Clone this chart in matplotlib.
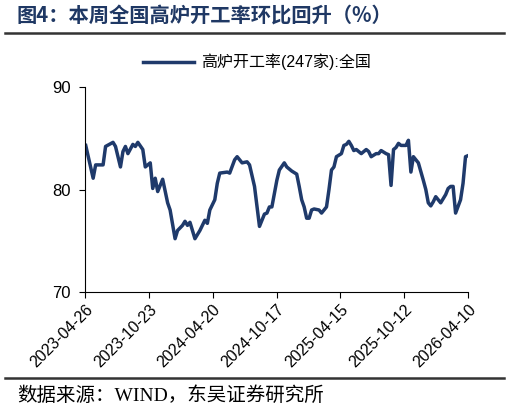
import numpy as np
import pandas as pd
import matplotlib
matplotlib.use("Agg")
import matplotlib.pyplot as plt
from matplotlib.lines import Line2D

# weekly data (Fridays), week index counted from the first week
start_date = "2023-04-28"
weeks = [0, 3, 4, 7, 8, 11, 12, 14, 15, 16, 17, 19, 20, 21, 23, 24, 26, 27, 28, 29,
         30, 31, 33, 34, 36, 37, 39, 40, 41, 42, 44, 46, 48, 49, 50, 52, 53, 54, 57, 58,
         60, 61, 63, 65, 66, 68, 70, 72, 73, 74, 75, 77, 78, 80, 81, 83, 85, 86, 87, 88,
         89, 90, 91, 92, 94, 95, 97, 98, 99, 100, 101, 103, 104, 105, 106, 107, 108, 109, 110, 111,
         113, 114, 115, 117, 118, 119, 121, 122, 123, 124, 125, 126, 127, 129, 130, 131, 132, 134, 136, 137,
         138, 139, 140, 141, 143, 145, 146, 147, 148, 149, 151, 152, 153, 154]
rate = [84.3, 81.1, 82.4, 82.4, 84.2, 84.6, 84.2, 82.2, 83.7, 84.2, 83.5, 84.4, 84.2, 84.6, 83.9, 82.2, 82.6, 80.1, 81.1, 79.8,
        80.4, 81.0, 78.7, 78.0, 75.2, 76.0, 76.5, 76.9, 76.5, 76.8, 75.2, 76.0, 77.0, 76.7, 78.0, 79.0, 80.6, 81.6, 81.7, 81.6,
        82.9, 83.2, 82.6, 82.7, 82.4, 80.3, 76.4, 77.6, 77.7, 78.3, 78.3, 80.9, 81.9, 82.6, 82.2, 81.8, 81.5, 80.3, 79.0, 78.3,
        77.2, 77.2, 78.0, 78.1, 78.0, 77.7, 78.3, 80.0, 81.9, 82.2, 83.2, 83.5, 84.3, 84.4, 84.7, 84.3, 83.8, 83.9, 83.7, 83.5,
        83.9, 83.7, 83.2, 83.5, 83.5, 83.8, 83.5, 83.4, 80.4, 83.9, 84.1, 84.5, 84.3, 84.3, 84.8, 81.7, 83.2, 82.6, 80.9, 80.0,
        78.7, 78.4, 78.8, 79.3, 78.7, 79.5, 80.1, 80.3, 80.3, 77.7, 79.0, 80.6, 83.2, 83.3]
tick_labels = ["2023-04-26", "2023-10-23", "2024-04-20", "2024-10-17",
               "2025-04-15", "2025-10-12", "2026-04-10"]
y_ticks = [70, 80, 90]

dates = pd.Timestamp(start_date) + pd.to_timedelta(np.array(weeks) * 7, unit="D")
ticks = pd.to_datetime(tick_labels)

navy = "#1f3a6b"
plt.rcParams["font.family"] = ["Liberation Sans", "Noto Sans CJK SC", "DejaVu Sans"]

fig = plt.figure(figsize=(5.1, 4.12), dpi=100)
ax = fig.add_axes([85 / 510, 1 - 292 / 412, 383 / 510, 205 / 412])
ax.plot(dates, rate, color=navy, lw=2.5, solid_joinstyle="round")

ax.set_xlim(ticks[0], ticks[-1])
ax.set_ylim(70, 90)
ax.set_yticks(y_ticks)
ax.set_xticks(ticks)
ax.set_xticklabels(tick_labels, rotation=45, ha="right", rotation_mode="anchor", fontsize=11.5)
ax.tick_params(axis="y", labelsize=12, length=4, direction="out", pad=6)
ax.tick_params(axis="x", length=4, direction="out", pad=3)
ax.spines["top"].set_visible(False)
ax.spines["right"].set_visible(False)

# legend, centred a bit left of the plot area like the original
leg_handle = Line2D([], [], color=navy, lw=2.5)
fig.legend([leg_handle], ["高炉开工率(247家):全国"], loc="center",
           bbox_to_anchor=(257 / 510, 1 - 62 / 412), frameon=False, fontsize=11.5,
           handlelength=3.2, handletextpad=0.4)

# title, rules and source
fig.text(17 / 510, 1 - 15 / 412, "图4：本周全国高炉开工率环比回升（%）", fontsize=14.6,
         fontweight="bold", color="#1f3864", va="center", ha="left",
         family=["Noto Sans CJK SC", "DejaVu Sans"])
fig.add_artist(Line2D([5 / 510, 504 / 510], [1 - 33 / 412] * 2, color="#333333", lw=1.8))
fig.add_artist(Line2D([5 / 510, 504 / 510], [1 - 378 / 412] * 2, color="#333333", lw=1.8))
fig.text(17 / 510, 1 - 396 / 412, "数据来源：WIND，东吴证券研究所", fontsize=14,
         va="center", ha="left", family=["Liberation Serif", "Noto Sans CJK SC"])

fig.savefig("out.png", dpi=100)
